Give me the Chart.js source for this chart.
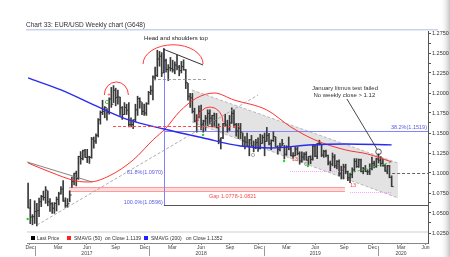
<!DOCTYPE html>
<html>
<head>
<meta charset="utf-8">
<style>
  html, body { margin: 0; padding: 0; background: #fff; }
  #wrap { width: 450px; height: 257px; }
</style>
</head>
<body>
<div id="wrap"><canvas id="eurusdChart" width="450" height="257"></canvas></div>
<script src="https://cdn.jsdelivr.net/npm/chart.js@4.4.1/dist/chart.umd.min.js"></script>
<script>
'use strict';

// one bar per week, first bar = week ending Fri 9 Dec 2016
var firstWeek = '2016-12-09';

var highs = [
    1.0874, 1.0670, 1.0480, 1.0653,
    // 2017
    1.0620, 1.0685, 1.0720, 1.0775,
    1.0830, 1.0775, 1.0680, 1.0630,
    1.0630, 1.0700, 1.0760, 1.0830, 1.0905,
    1.0690, 1.0680, 1.0778, 1.0950,
    1.1000, 1.1024, 1.1210, 1.1268,
    1.1285, 1.1295, 1.1296, 1.1210, 1.1445,
    1.1450, 1.1490, 1.1680, 1.1775,
    1.1910, 1.1830, 1.1805, 1.1940,
    1.2070, 1.2092, 1.2060, 1.2035, 1.1950,
    1.1830, 1.1880, 1.1860, 1.1880,
    1.1690, 1.1665, 1.1860, 1.1960,
    1.1940, 1.1880, 1.1860, 1.1880, 1.2020,
    // 2018
    1.2090, 1.2215, 1.2325, 1.2535,
    1.2520, 1.2505, 1.2555, 1.2425,
    1.2355, 1.2445, 1.2410, 1.2390, 1.2475,
    1.2345, 1.2395, 1.2415, 1.2295,
    1.2120, 1.1995, 1.1995, 1.1810,
    1.1730, 1.1840, 1.1850, 1.1660, 1.1720,
    1.1790, 1.1790, 1.1720, 1.1750,
    1.1745, 1.1615, 1.1440, 1.1620, 1.1735,
    1.1660, 1.1720, 1.1815, 1.1790,
    1.1620, 1.1620, 1.1620, 1.1500,
    1.1455, 1.1500, 1.1420, 1.1470, 1.1400,
    1.1420, 1.1440, 1.1485, 1.1475,
    // 2019
    1.1500, 1.1570, 1.1495, 1.1415,
    1.1515, 1.1450, 1.1340, 1.1375,
    1.1420, 1.1345, 1.1340, 1.1450, 1.1325,
    1.1255, 1.1325, 1.1325, 1.1265,
    1.1265, 1.1255, 1.1265, 1.1205, 1.1215,
    1.1345, 1.1350, 1.1370, 1.1410,
    1.1350, 1.1285, 1.1285, 1.1225,
    1.1150, 1.1250, 1.1230, 1.1155, 1.1165,
    1.1085, 1.1110, 1.1110, 1.1025,
    1.0995, 1.1065, 1.1180, 1.1180,
    1.1175, 1.1175, 1.1070, 1.1095, 1.1040,
    1.1115, 1.1200, 1.1150, 1.1185,
    // 2020
    1.1240, 1.1205, 1.1175, 1.1105, 1.1095, 1.1095, 1.0965
];

var lows = [
    1.0562, 1.0367, 1.0352, 1.0369,
    // 2017
    1.0340, 1.0454, 1.0580, 1.0660,
    1.0620, 1.0590, 1.0520, 1.0495,
    1.0495, 1.0525, 1.0600, 1.0735, 1.0645,
    1.0570, 1.0570, 1.0640, 1.0821,
    1.0850, 1.0838, 1.0920, 1.1110,
    1.1165, 1.1195, 1.1130, 1.1120, 1.1185,
    1.1310, 1.1370, 1.1450, 1.1610,
    1.1730, 1.1690, 1.1660, 1.1735,
    1.1820, 1.1880, 1.1840, 1.1860, 1.1720,
    1.1670, 1.1730, 1.1730, 1.1575,
    1.1575, 1.1555, 1.1640, 1.1720,
    1.1810, 1.1730, 1.1720, 1.1720, 1.1860,
    // 2018
    1.1980, 1.1915, 1.2165, 1.2205,
    1.2335, 1.2205, 1.2255, 1.2260,
    1.2155, 1.2275, 1.2260, 1.2240, 1.2290,
    1.2215, 1.2250, 1.2285, 1.2055,
    1.1910, 1.1820, 1.1750, 1.1640,
    1.1510, 1.1690, 1.1540, 1.1510, 1.1530,
    1.1590, 1.1610, 1.1575, 1.1575,
    1.1565, 1.1365, 1.1300, 1.1430, 1.1590,
    1.1510, 1.1530, 1.1620, 1.1570,
    1.1460, 1.1430, 1.1430, 1.1335,
    1.1300, 1.1330, 1.1215, 1.1335, 1.1265,
    1.1305, 1.1270, 1.1300, 1.1370,
    // 2019
    1.1215, 1.1395, 1.1350, 1.1290,
    1.1395, 1.1325, 1.1235, 1.1275,
    1.1340, 1.1175, 1.1220, 1.1290, 1.1215,
    1.1185, 1.1215, 1.1225, 1.1110,
    1.1135, 1.1160, 1.1160, 1.1105, 1.1115,
    1.1160, 1.1205, 1.1180, 1.1350,
    1.1205, 1.1195, 1.1200, 1.1100,
    1.1025, 1.1090, 1.1065, 1.1050, 1.0965,
    1.0925, 1.0925, 1.0990, 1.0905,
    1.0880, 1.0940, 1.1015, 1.1070,
    1.1070, 1.1015, 1.0990, 1.1015, 1.0980,
    1.0980, 1.1040, 1.1065, 1.1070,
    // 2020
    1.1125, 1.1085, 1.1085, 1.1020, 1.0990, 1.0940, 1.0830
];

var closes = [
    1.0562, 1.0450, 1.0454, 1.0517,
    // 2017
    1.0530, 1.0640, 1.0705, 1.0695,
    1.0785, 1.0640, 1.0615, 1.0560,
    1.0620, 1.0670, 1.0740, 1.0800, 1.0650,
    1.0590, 1.0615, 1.0725, 1.0895,
    1.0995, 1.0930, 1.1205, 1.1180,
    1.1280, 1.1195, 1.1200, 1.1195, 1.1425,
    1.1400, 1.1470, 1.1665, 1.1755,
    1.1770, 1.1820, 1.1760, 1.1925,
    1.1860, 1.2035, 1.1945, 1.1950, 1.1815,
    1.1730, 1.1820, 1.1785, 1.1605,
    1.1605, 1.1665, 1.1790, 1.1930,
    1.1890, 1.1770, 1.1750, 1.1865, 1.2005,
    // 2018
    1.2030, 1.2200, 1.2220, 1.2425,
    1.2460, 1.2250, 1.2405, 1.2295,
    1.2315, 1.2305, 1.2290, 1.2350, 1.2325,
    1.2280, 1.2330, 1.2290, 1.2130,
    1.1960, 1.1940, 1.1770, 1.1650,
    1.1660, 1.1770, 1.1610, 1.1650, 1.1685,
    1.1745, 1.1685, 1.1720, 1.1655,
    1.1565, 1.1410, 1.1440, 1.1620, 1.1600,
    1.1550, 1.1625, 1.1745, 1.1605,
    1.1525, 1.1560, 1.1510, 1.1400,
    1.1385, 1.1335, 1.1415, 1.1340, 1.1315,
    1.1380, 1.1305, 1.1370, 1.1445,
    // 2019
    1.1395, 1.1470, 1.1365, 1.1405,
    1.1455, 1.1325, 1.1295, 1.1335,
    1.1365, 1.1235, 1.1325, 1.1300, 1.1215,
    1.1215, 1.1300, 1.1245, 1.1150,
    1.1200, 1.1235, 1.1160, 1.1205, 1.1170,
    1.1335, 1.1210, 1.1370, 1.1370,
    1.1225, 1.1270, 1.1220, 1.1125,
    1.1110, 1.1200, 1.1090, 1.1145, 1.0990,
    1.1025, 1.1075, 1.1015, 1.0940,
    1.0980, 1.1040, 1.1145, 1.1080,
    1.1165, 1.1020, 1.1050, 1.1020, 1.1015,
    1.1060, 1.1120, 1.1080, 1.1175,
    // 2020
    1.1160, 1.1120, 1.1090, 1.1025, 1.1090, 1.0945, 1.0830
];

// moving averages (week index -> level)
var sma50Weeks = [0, 10, 22, 28, 37, 48, 57, 63, 69, 77, 85, 94, 109, 120, 131, 145, 155, 166];
var sma50Values = [1.1125, 1.1013, 1.0900, 1.0888, 1.0963, 1.1163, 1.1413, 1.1563, 1.1763, 1.1938, 1.2000, 1.1913, 1.1788, 1.1575, 1.1413, 1.1288, 1.1238, 1.1139];
var sma200Weeks = [0, 15, 33, 46, 62, 80, 97, 111, 128, 145, 166];
var sma200Values = [1.2188, 1.2038, 1.1813, 1.1663, 1.1550, 1.1438, 1.1338, 1.1313, 1.1350, 1.1363, 1.1352];

var yTicks = [1.025, 1.05, 1.075, 1.1, 1.125, 1.15, 1.175, 1.2, 1.225, 1.25, 1.275];
var xTickDates = ['2016-12-15', '2017-03-15', '2017-06-15', '2017-09-15', '2017-12-15', '2018-03-15', '2018-06-15',
    '2018-09-15', '2018-12-15', '2019-03-15', '2019-06-15', '2019-09-15', '2019-12-15', '2020-03-15', '2020-06-01'];
var xTickLabels = ['Dec', 'Mar', ['Jun', '2017'], 'Sep', 'Dec', 'Mar', ['Jun', '2018'], 'Sep', 'Dec', 'Mar', ['Jun', '2019'],
    'Sep', 'Dec', ['Mar', '2020'], 'Jun'];
var yearStarts = ['2017-01-01', '2018-01-01', '2019-01-01', '2020-01-01'];

var FONT = "'Liberation Sans', Arial, sans-serif";

function weekOf(d) {
    return (Date.parse(d) - Date.parse(firstWeek)) / (7 * 864e5);
}

var priceBars = highs.map(function (h, i) { return { x: i, y: [lows[i], h] }; });
var closeTicks = closes.map(function (c, i) { return { x: i + 0.45, y: c }; });
var sma50 = sma50Weeks.map(function (w, i) { return { x: w, y: sma50Values[i] }; });
var sma200 = sma200Weeks.map(function (w, i) { return { x: w, y: sma200Values[i] }; });

function X(chart, w) { return chart.scales.x.getPixelForValue(w); }
function Y(chart, p) { return chart.scales.y.getPixelForValue(p); }
function snap(v) { return Math.round(v) + 0.5; }

function seg(ctx, chart, a, b, color, width, dash) {
    var x1 = X(chart, a[0]), y1 = Y(chart, a[1]), x2 = X(chart, b[0]), y2 = Y(chart, b[1]);
    if (y1 === y2) { y1 = y2 = snap(y1); }
    if (x1 === x2) { x1 = x2 = snap(x1); }
    ctx.save();
    ctx.strokeStyle = color;
    ctx.lineWidth = width || 1;
    ctx.setLineDash(dash || []);
    ctx.beginPath();
    ctx.moveTo(x1, y1);
    ctx.lineTo(x2, y2);
    ctx.stroke();
    ctx.restore();
}

function arc(ctx, chart, c, rw, rp, color) {
    var cx = X(chart, c[0]), cy = Y(chart, c[1]);
    var rx = X(chart, c[0] + rw) - cx, ry = cy - Y(chart, c[1] + rp);
    ctx.save();
    ctx.strokeStyle = color;
    ctx.lineWidth = 1;
    ctx.beginPath();
    ctx.ellipse(cx, cy, rx, ry, 0, Math.PI, 2 * Math.PI);
    ctx.stroke();
    ctx.restore();
}

function text(ctx, str, x, y, color, size, align, base) {
    ctx.save();
    ctx.font = (size || 5.5) + 'px ' + FONT;
    ctx.fillStyle = color;
    ctx.textAlign = align || 'left';
    ctx.textBaseline = base || 'middle';
    ctx.fillText(str, x, y);
    ctx.restore();
}

function dot(ctx, x, y, r, fill, stroke) {
    ctx.save();
    ctx.beginPath();
    ctx.arc(x, y, r, 0, 2 * Math.PI);
    if (fill) { ctx.fillStyle = fill; ctx.fill(); }
    if (stroke) { ctx.strokeStyle = stroke; ctx.lineWidth = 0.8; ctx.stroke(); }
    ctx.restore();
}

var overlays = {
    id: 'overlays',
    beforeDraw: function (chart) {
        var ctx = chart.ctx;
        ctx.save();
        ctx.fillStyle = '#fff';
        ctx.fillRect(0, 0, chart.width, chart.height);
        var g = ctx.createLinearGradient(440, 0, 450, 0);
        g.addColorStop(0, 'rgba(255,255,255,0)');
        g.addColorStop(1, '#c4c4c4');
        ctx.fillStyle = g;
        ctx.fillRect(440, 0, 10, chart.height);
        ctx.fillStyle = '#c9d5e4';
        ctx.fillRect(26, 29, 412, 1.5);
        ctx.restore();
        text(ctx, 'Chart 33: EUR/USD Weekly chart (G648)', 26, 25, '#333', 6.5);
    },
    beforeDatasetsDraw: function (chart) {
        var ctx = chart.ctx;
        // falling channel
        var t1 = [74.8, 1.2038], t2 = [168.9, 1.1125], b1 = [74.8, 1.1638], b2 = [168.9, 1.0688];
        ctx.save();
        ctx.fillStyle = 'rgba(200,200,200,0.5)';
        ctx.beginPath();
        ctx.moveTo(X(chart, t1[0]), Y(chart, t1[1]));
        ctx.lineTo(X(chart, t2[0]), Y(chart, t2[1]));
        ctx.lineTo(X(chart, b2[0]), Y(chart, b2[1]));
        ctx.lineTo(X(chart, b1[0]), Y(chart, b1[1]));
        ctx.closePath();
        ctx.fill();
        ctx.restore();
        seg(ctx, chart, t1, t2, '#aaa', 0.8, [3, 2]);
        seg(ctx, chart, b1, b2, '#aaa', 0.8, [3, 2]);

        // French election gap
        var gx1 = X(chart, 18.7), gx2 = X(chart, 144.7);
        var gy1 = Y(chart, 1.0821), gy2 = Y(chart, 1.0778);
        ctx.save();
        ctx.fillStyle = 'rgba(255,190,190,0.6)';
        ctx.fillRect(gx1, gy1, gx2 - gx1, gy2 - gy1);
        ctx.restore();
        seg(ctx, chart, [18.7, 1.0821], [144.7, 1.0821], '#ff9a9a', 1);
        seg(ctx, chart, [18.7, 1.0778], [144.7, 1.0778], '#ff9a9a', 1);

        // fibonacci levels and the vertical from the high
        var xMax = chart.scales.x.max;
        seg(ctx, chart, [62, 1.2555], [62, 1.0596], '#8080ff', 1);
        seg(ctx, chart, [62, 1.0596], [xMax, 1.0596], '#555', 1);
        seg(ctx, chart, [62, 1.1519], [xMax, 1.1519], '#8585ff', 1);
    },
    afterDatasetsDraw: function (chart) {
        var ctx = chart.ctx;
        var xMax = chart.scales.x.max;
        var area = chart.chartArea;

        seg(ctx, chart, [4.1, 1.035], [105, 1.1975], '#999', 0.8, [3, 2]);
        seg(ctx, chart, [-0.5, 1.1138], [29.2, 1.0888], '#666', 0.8);
        seg(ctx, chart, [61.6, 1.2550], [79.9, 1.2350], '#333', 1);
        seg(ctx, chart, [57, 1.2175], [81.7, 1.2175], '#888', 0.8, [3, 2]);
        seg(ctx, chart, [38.8, 1.1588], [96.8, 1.1588], '#ff4a4a', 1, [3, 2]);
        seg(ctx, chart, [166.2, 1.10], [xMax, 1.10], '#666', 1, [3, 2]);
        seg(ctx, chart, [119.6, 1.1025], [143.8, 1.1025], '#ff8cff', 0.8, [1, 1]);
        seg(ctx, chart, [147, 1.0760], [166.2, 1.0760], '#ff8cff', 0.8, [1, 1]);
        seg(ctx, chart, [147, 1.10], [166.2, 1.1138], '#44cc44', 1, [2, 2]);

        // head and shoulders
        arc(ctx, chart, [40.3, 1.1975], 5.5, 0.0163, '#ff3b3b');
        arc(ctx, chart, [66.2, 1.2363], 13.7, 0.024, '#ff3b3b');
        arc(ctx, chart, [83.1, 1.1638], 5.9, 0.0187, '#ff3b3b');
        text(ctx, 'Head and shoulders top', X(chart, 67.5), Y(chart, 1.2688), '#222', 6, 'center');

        // sequential count marks
        dot(ctx, X(chart, -0.2), Y(chart, 1.0425), 1.2, '#22dd22');
        dot(ctx, X(chart, 36.0), Y(chart, 1.1888), 1.6, null, '#44aa44');
        text(ctx, '+', X(chart, 36.9), Y(chart, 1.1988), '#ff2020', 6, 'center');
        dot(ctx, X(chart, 79.9), Y(chart, 1.1475), 1.2, '#22dd22');
        dot(ctx, X(chart, 102.7), Y(chart, 1.1225), 1.6, null, '#999');
        dot(ctx, X(chart, 116.9), Y(chart, 1.1150), 1.2, '#22dd22');
        dot(ctx, X(chart, 126.9), Y(chart, 1.1113), 1.6, null, '#999');
        dot(ctx, X(chart, 127.8), Y(chart, 1.1088), 1.2, '#22dd22');
        text(ctx, '13', X(chart, 120.5), Y(chart, 1.1175), '#ff4040', 5.5);
        text(ctx, '13', X(chart, 147), Y(chart, 1.0850), '#ff4040', 5.5);

        // fib labels
        text(ctx, '38.2%(1.1519)', area.right - 1, Y(chart, 1.1519) - 2, '#5a5ae6', 5.5, 'right', 'alphabetic');
        text(ctx, '61.8%(1.0970)', X(chart, 62) - 1, Y(chart, 1.0970) - 1.5, '#5a5ae6', 5.5, 'right', 'alphabetic');
        text(ctx, '100.0%(1.0596)', X(chart, 62) - 1, Y(chart, 1.0596) - 1, '#5a5ae6', 5.5, 'right', 'alphabetic');
        text(ctx, 'Gap 1.0778-1.0821', X(chart, 82.6), Y(chart, 1.0778) + 6, '#ff4a4a', 5.5);

        // January litmus note
        text(ctx, 'January litmus test failed', X(chart, 144.7), Y(chart, 1.2063), '#333', 6, 'center');
        text(ctx, 'No weekly close > 1.12', X(chart, 144.4), Y(chart, 1.1969), '#333', 6, 'center');
        seg(ctx, chart, [145.6, 1.1925], [159.3, 1.1300], '#333', 0.9);
        dot(ctx, X(chart, 160), Y(chart, 1.1265), 2.8, null, '#333');

        // legend strip
        ctx.save();
        ctx.fillStyle = '#fff';
        ctx.fillRect(area.left, 232, area.right - area.left, area.bottom - 232);
        ctx.fillStyle = '#d0d0d0';
        ctx.fillRect(area.left, 231.5, area.right - area.left, 1);
        ctx.fillStyle = '#000';
        ctx.fillRect(31, 236, 4, 4);
        ctx.fillStyle = '#ff2020';
        ctx.fillRect(67, 236, 4, 4);
        ctx.fillStyle = '#2020ff';
        ctx.fillRect(144, 236, 4, 4);
        ctx.restore();
        text(ctx, 'Last Price', 37, 238.2, '#333', 5);
        text(ctx, 'SMAVG (50)', 74, 238.2, '#333', 5);
        text(ctx, 'on Close 1.1139', 105, 238.2, '#333', 5);
        text(ctx, 'SMAVG (200)', 151, 238.2, '#333', 5);
        text(ctx, 'on Close 1.1352', 186, 238.2, '#333', 5);
    },
    afterDraw: function (chart) {
        var ctx = chart.ctx;
        ctx.save();
        ctx.strokeStyle = '#999';
        ctx.lineWidth = 1;
        yearStarts.forEach(function (d) {
            var x = snap(X(chart, weekOf(d)));
            ctx.beginPath();
            ctx.moveTo(x, 246);
            ctx.lineTo(x, 256);
            ctx.stroke();
        });
        ctx.restore();
    }
};

new Chart(document.getElementById('eurusdChart'), {
    type: 'bar',
    data: {
        datasets: [
            { type: 'line', label: 'SMAVG (200)', data: sma200, borderColor: '#2a2af0', borderWidth: 1.4, pointRadius: 0, cubicInterpolationMode: 'monotone', order: 0 },
            { type: 'line', label: 'SMAVG (50)', data: sma50, borderColor: '#ff3030', borderWidth: 1, pointRadius: 0, cubicInterpolationMode: 'monotone', order: 0 },
            { type: 'scatter', label: 'Close', data: closeTicks, pointStyle: 'line', pointRadius: 1, borderColor: '#333', borderWidth: 1, order: 1 },
            { type: 'bar', label: 'Last Price', data: priceBars, backgroundColor: '#3a3a3a', barThickness: 1, grouped: false, order: 2 }
        ]
    },
    options: {
        responsive: false,
        animation: false,
        devicePixelRatio: 1,
        layout: { padding: { left: 27, top: 31, right: 0, bottom: 0 } },
        plugins: { legend: { display: false }, tooltip: { enabled: false } },
        scales: {
            x: {
                type: 'linear', min: -0.5, max: 182.6, offset: false,
                grid: { drawOnChartArea: false, offset: false, tickLength: 2, color: '#888' },
                border: { color: '#888' },
                afterBuildTicks: function (s) { s.ticks = xTickDates.map(function (d) { return { value: weekOf(d) }; }); },
                afterFit: function (s) { s.height = 14; },
                ticks: {
                    autoSkip: false, maxRotation: 0, padding: 0, color: '#444',
                    font: { size: 5, family: FONT }, callback: function (v, i) { return xTickLabels[i]; }
                }
            },
            y: {
                type: 'linear', position: 'right', min: 1.0125, max: 1.2775,
                grid: { drawOnChartArea: false, tickLength: 3, color: '#555' },
                border: { color: '#555' },
                afterBuildTicks: function (s) {
                    var t = [];
                    yTicks.forEach(function (v, i) {
                        t.push({ value: v });
                        if (i < yTicks.length - 1) { t.push({ value: (v + yTicks[i + 1]) / 2 }); }
                    });
                    s.ticks = t;
                },
                afterFit: function (s) { s.width = 22; },
                ticks: {
                    padding: 1, color: '#333', font: { size: 5.5, family: FONT },
                    callback: function (v) {
                        var major = yTicks.some(function (t) { return Math.abs(t - v) < 1e-9; });
                        return major ? v.toFixed(4) : '';
                    }
                }
            }
        }
    },
    plugins: [overlays]
});
</script>
</body>
</html>
